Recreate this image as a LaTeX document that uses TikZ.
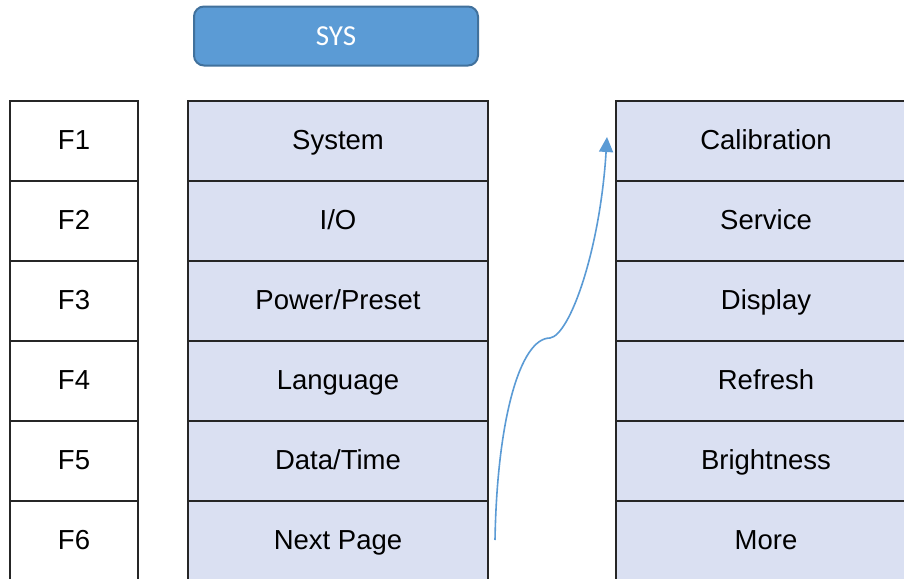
\documentclass[tikz,border=0pt]{standalone}
\usepackage{fontspec}
\setmainfont{Liberation Sans}
\newfontfamily\carlito{Carlito}
\usetikzlibrary{arrows.meta}
\definecolor{sysblue}{RGB}{91,155,213}
\definecolor{sysedge}{RGB}{65,113,156}
\definecolor{cellfill}{RGB}{218,224,242}
\definecolor{arrowblue}{RGB}{91,155,213}
\begin{document}
\begin{tikzpicture}[x=1pt,y=-1pt,
  fkey/.style={draw=black!85, line width=1.4pt, fill=white, minimum width=128pt,
    minimum height=80pt, inner sep=0pt, text height=21pt, text depth=4pt,
    font=\fontsize{27.5}{30}\selectfont},
  cell/.style={fkey, fill=cellfill, minimum width=300pt},
  sysbox/.style={draw=sysedge, line width=2pt, fill=sysblue, rounded corners=10pt,
    minimum width=284pt, minimum height=59pt, inner sep=0pt, text=white,
    font=\carlito\fontsize{29}{32}\selectfont},
  curvearrow/.style={draw=arrowblue, line width=1.6pt, -{Triangle[length=15pt,width=14pt]}}
]
\useasboundingbox (0,0) rectangle (904,581);
\fill[white] (0,0) rectangle (904,581);
\clip (0,0) rectangle (904,578.5);

\node[sysbox] (sys) at (336,36) {SYS};

\node[fkey] (f1) at (74,141) {F1};
\node[fkey] (f2) at (74,221) {F2};
\node[fkey] (f3) at (74,301) {F3};
\node[fkey] (f4) at (74,381) {F4};
\node[fkey] (f5) at (74,461) {F5};
\node[fkey] (f6) at (74,541) {F6};

\node[cell] (m1) at (338,141) {System};
\node[cell] (m2) at (338,221) {I/O};
\node[cell] (m3) at (338,301) {Power/Preset};
\node[cell] (m4) at (338,381) {Language};
\node[cell] (m5) at (338,461) {Data/Time};
\node[cell] (m6) at (338,541) {Next Page};

\node[cell] (r1) at (766,141) {Calibration};
\node[cell] (r2) at (766,221) {Service};
\node[cell] (r3) at (766,301) {Display};
\node[cell] (r4) at (766,381) {Refresh};
\node[cell] (r5) at (766,461) {Brightness};
\node[cell] (r6) at (766,541) {More};

\coordinate (astart) at (495,540);
\coordinate (amid) at (550,338);
\coordinate (aend) at (607,137);
\draw[curvearrow] (astart) .. controls (497,420) and (520,338) .. (amid)
  .. controls (570,335) and (600,250) .. (aend);
\end{tikzpicture}
\end{document}
